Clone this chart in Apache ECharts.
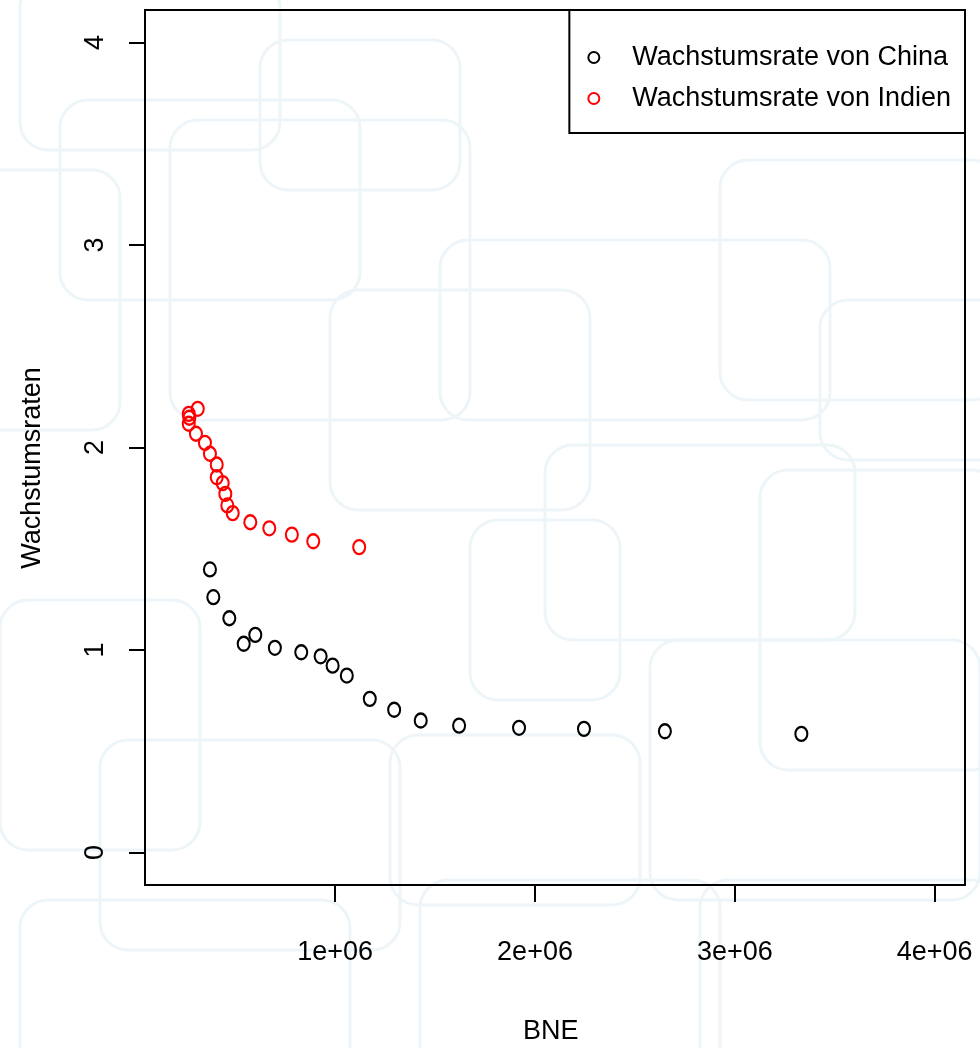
<!DOCTYPE html>
<html>
<head>
<meta charset="utf-8">
<script src="https://cdn.jsdelivr.net/npm/echarts@6/dist/echarts.min.js"></script>
<style>
  html, body { margin: 0; padding: 0; background: #ffffff; }
  #chart { width: 980px; height: 1048px; }
</style>
</head>
<body>
<div id="chart"></div>
<script>
// ---- data ----
const chinaX = [373000, 390000, 470000, 542000, 600000, 698000, 830000, 927000, 987000, 1058000, 1173000, 1295000, 1428000, 1620000, 1920000, 2245000, 2650000, 3333000];
const chinaY = [1.398, 1.261, 1.157, 1.031, 1.075, 1.011, 0.989, 0.969, 0.923, 0.874, 0.759, 0.705, 0.652, 0.627, 0.616, 0.611, 0.599, 0.586];
const indiaX = [312000, 267000, 270000, 267000, 303000, 348000, 373000, 407000, 407000, 437000, 450000, 460000, 487000, 575000, 670000, 783000, 890000, 1120000];
const indiaY = [2.191, 2.166, 2.147, 2.117, 2.068, 2.023, 1.969, 1.916, 1.853, 1.824, 1.771, 1.714, 1.676, 1.631, 1.601, 1.570, 1.537, 1.508];
const seriesNames = ['Wachstumsrate von China', 'Wachstumsrate von Indien'];
const xTickValues = [1000000, 2000000, 3000000, 4000000];
const xTickLabels = ['1e+06', '2e+06', '3e+06', '4e+06'];
const yTickValues = [0, 1, 2, 3, 4];
const yTickLabels = ['0', '1', '2', '3', '4'];
const xTitle = 'BNE';
const yTitle = 'Wachstumsraten';

const FONT = '"Liberation Sans", Arial, sans-serif';

function zip(xs, ys) { return xs.map((x, i) => [x, ys[i]]); }

// faint decorative background pattern (rounded rectangles)
const deco = [
  [20, -20, 260, 170], [60, 100, 300, 200], [-30, 170, 150, 260], [170, 120, 300, 300],
  [440, 240, 390, 180], [330, 290, 260, 220], [470, 520, 150, 180], [545, 445, 310, 195],
  [720, 160, 280, 240], [760, 470, 240, 300], [390, 735, 250, 170], [0, 600, 200, 250],
  [100, 740, 300, 210], [650, 640, 330, 260], [20, 900, 330, 200], [420, 880, 300, 200],
  [700, 880, 300, 200], [260, 40, 200, 150], [820, 300, 200, 160]
];
const decoGraphics = deco.map(d => ({
  type: 'rect', z: -10, silent: true,
  shape: { x: d[0], y: d[1], width: d[2], height: d[3], r: 28 },
  style: { fill: 'none', stroke: '#edf5f9', lineWidth: 3 }
}));

const chart = echarts.init(document.getElementById('chart'));
chart.setOption({
  backgroundColor: '#ffffff',
  animation: false,
  textStyle: { fontFamily: FONT },
  graphic: decoGraphics.concat([
    { type: 'text', left: 553 - 30, top: 1018, z: 10,
      style: { text: xTitle, font: '27px ' + FONT, fill: '#000' } },
    { type: 'text', x: 33, y: 468, rotation: Math.PI / 2, z: 10,
      style: { text: yTitle, font: '27px ' + FONT, fill: '#000', align: 'center', verticalAlign: 'middle' } }
  ]),
  grid: {
    left: 145, right: 15, top: 10, bottom: 163,
    show: true, borderColor: '#000', borderWidth: 2, backgroundColor: 'transparent'
  },
  legend: {
    right: 15, top: 10,
    orient: 'vertical',
    padding: [34, 14, 21, 18],
    itemGap: 14,
    itemWidth: 11, itemHeight: 13,
    borderColor: '#000', borderWidth: 2,
    backgroundColor: 'transparent',
    textStyle: { fontSize: 27, lineHeight: 27, color: '#000', fontFamily: FONT, padding: [0, 0, 0, 28] },
    data: seriesNames.map(n => ({ name: n, icon: 'circle' }))
  },
  xAxis: {
    type: 'value', min: 48000, max: 4152000,
    axisLine: { show: false, onZero: false },
    splitLine: { show: false },
    axisTick: { show: true, length: 17, customValues: xTickValues, lineStyle: { color: '#000', width: 2 } },
    axisLabel: {
      customValues: xTickValues, margin: 54, fontSize: 27, color: '#000', fontFamily: FONT,
      formatter: v => xTickLabels[xTickValues.indexOf(v)]
    }
  },
  yAxis: {
    type: 'value', min: -0.16, max: 4.16,
    axisLine: { show: false, onZero: false },
    splitLine: { show: false },
    axisTick: { show: true, length: 16, customValues: yTickValues, lineStyle: { color: '#000', width: 2 } },
    axisLabel: {
      customValues: yTickValues, margin: 36, fontSize: 27, color: '#000', fontFamily: FONT, rotate: 90,
      formatter: v => yTickLabels[yTickValues.indexOf(v)]
    }
  },
  series: [
    {
      name: seriesNames[0], type: 'scatter', symbol: 'circle', symbolSize: [12, 14],
      itemStyle: { color: 'rgba(0,0,0,0)', borderColor: '#000', borderWidth: 2.2, opacity: 1 },
      data: zip(chinaX, chinaY)
    },
    {
      name: seriesNames[1], type: 'scatter', symbol: 'circle', symbolSize: [12, 14],
      itemStyle: { color: 'rgba(0,0,0,0)', borderColor: '#ff0000', borderWidth: 2.2, opacity: 1 },
      data: zip(indiaX, indiaY)
    }
  ]
});
</script>
</body>
</html>
